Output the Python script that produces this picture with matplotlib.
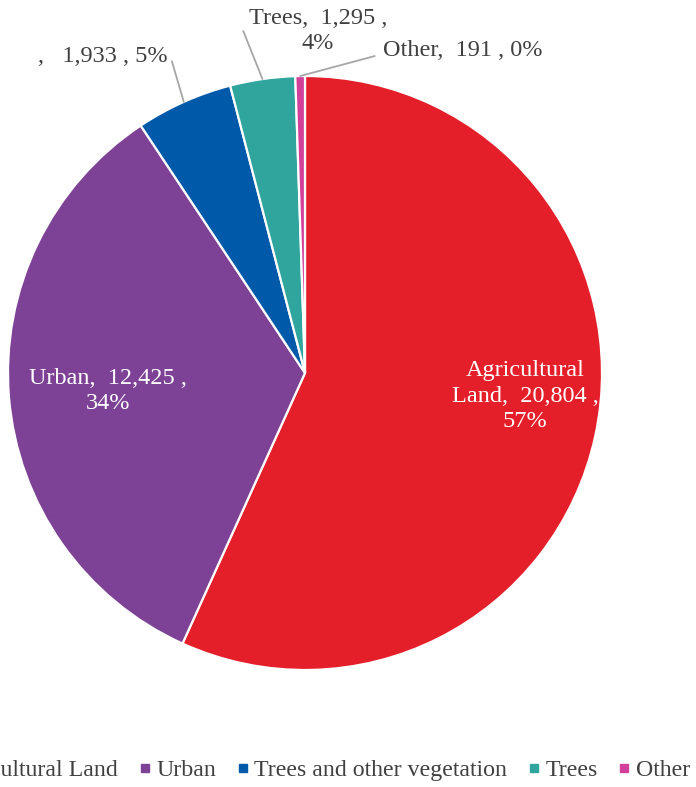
import numpy as np
import matplotlib
matplotlib.use("Agg")
import matplotlib.pyplot as plt
from matplotlib.lines import Line2D

plt.rcParams['font.family'] = ['Liberation Serif', 'DejaVu Serif']

categories = ['Agricultural Land', 'Urban', 'Trees and other vegetation', 'Trees', 'Other']
areas = [20804, 12425, 1933, 1295, 191]
shares = [57, 34, 5, 4, 0]  # percent labels as printed
colors = ['#E41F2A', '#7D4296', '#0059A9', '#30A59D', '#D2409A']

W, H = 696, 787
fig = plt.figure(figsize=(W / 100, H / 100), dpi=100)

# pie sits at (305, 373) px from top-left, radius 297 px
cx, cy, r = 305, 373, 297
ax = fig.add_axes([(cx - r) / W, (H - cy - r) / H, 2 * r / W, 2 * r / H])
wedges, _ = ax.pie(areas, colors=colors, startangle=90, counterclock=False,
                   radius=1, wedgeprops=dict(edgecolor='white', linewidth=1.6))
ax.set_xlim(-1, 1)
ax.set_ylim(-1, 1)
ax.set_aspect('equal')
ax.axis('off')

txt_grey = '#404040'
fs = 17.5
ls = 1.3

# labels inside the two big slices
fig.text(525 / W, 1 - 396 / H,
         f"Agricultural\nLand,  {areas[0]:,} ,\n{shares[0]}%",
         ha='center', va='center', color='white', fontsize=fs, linespacing=ls)
fig.text(108 / W, 1 - 391 / H,
         f"Urban,  {areas[1]:,} ,\n{shares[1]}%",
         ha='center', va='center', color='white', fontsize=fs, linespacing=ls)


def edge_point(w):
    th = np.deg2rad((w.theta1 + w.theta2) / 2)
    return np.cos(th), np.sin(th)


line_kw = dict(arrowstyle='-', color='#A6A6A6', lw=1.3, shrinkB=0)

# small slices get outside labels with leader lines
ax.annotate(f",   {areas[2]:,} , {shares[2]}%", xy=edge_point(wedges[2]),
            xytext=(168, H - 57), textcoords='figure pixels',
            ha='right', va='center', color=txt_grey, fontsize=fs,
            arrowprops=dict(**line_kw, shrinkA=0, relpos=(1.03, 0.3)),
            annotation_clip=False)
ax.annotate(f"Trees,  {areas[3]:,} ,\n{shares[3]}%", xy=edge_point(wedges[3]),
            xytext=(318, H - 31), textcoords='figure pixels',
            ha='center', va='center', color=txt_grey, fontsize=fs, linespacing=ls,
            arrowprops=dict(**line_kw, shrinkA=0, relpos=(-0.04, 0.5)),
            annotation_clip=False)
ax.annotate(f"Other,  {areas[4]:,} , {shares[4]}%", xy=edge_point(wedges[4]),
            xytext=(383, H - 50), textcoords='figure pixels',
            ha='left', va='center', color=txt_grey, fontsize=fs,
            arrowprops=dict(**line_kw, shrinkA=4, relpos=(0.0, 0.22),
                            connectionstyle='angle,angleA=0,angleB=15,rad=0'),
            annotation_clip=False)

handles = [Line2D([], [], marker='s', linestyle='none', markersize=6,
                  markerfacecolor=c, markeredgecolor=c) for c in colors]
fig.legend(handles, categories, loc='center right', bbox_to_anchor=(702 / W, 1 - 770 / H),
           ncol=5, frameon=False, fontsize=17.2, labelcolor=txt_grey, borderpad=0,
           handlelength=0.45, handletextpad=0.25, columnspacing=0.9)

fig.savefig('out.png', dpi=100)
